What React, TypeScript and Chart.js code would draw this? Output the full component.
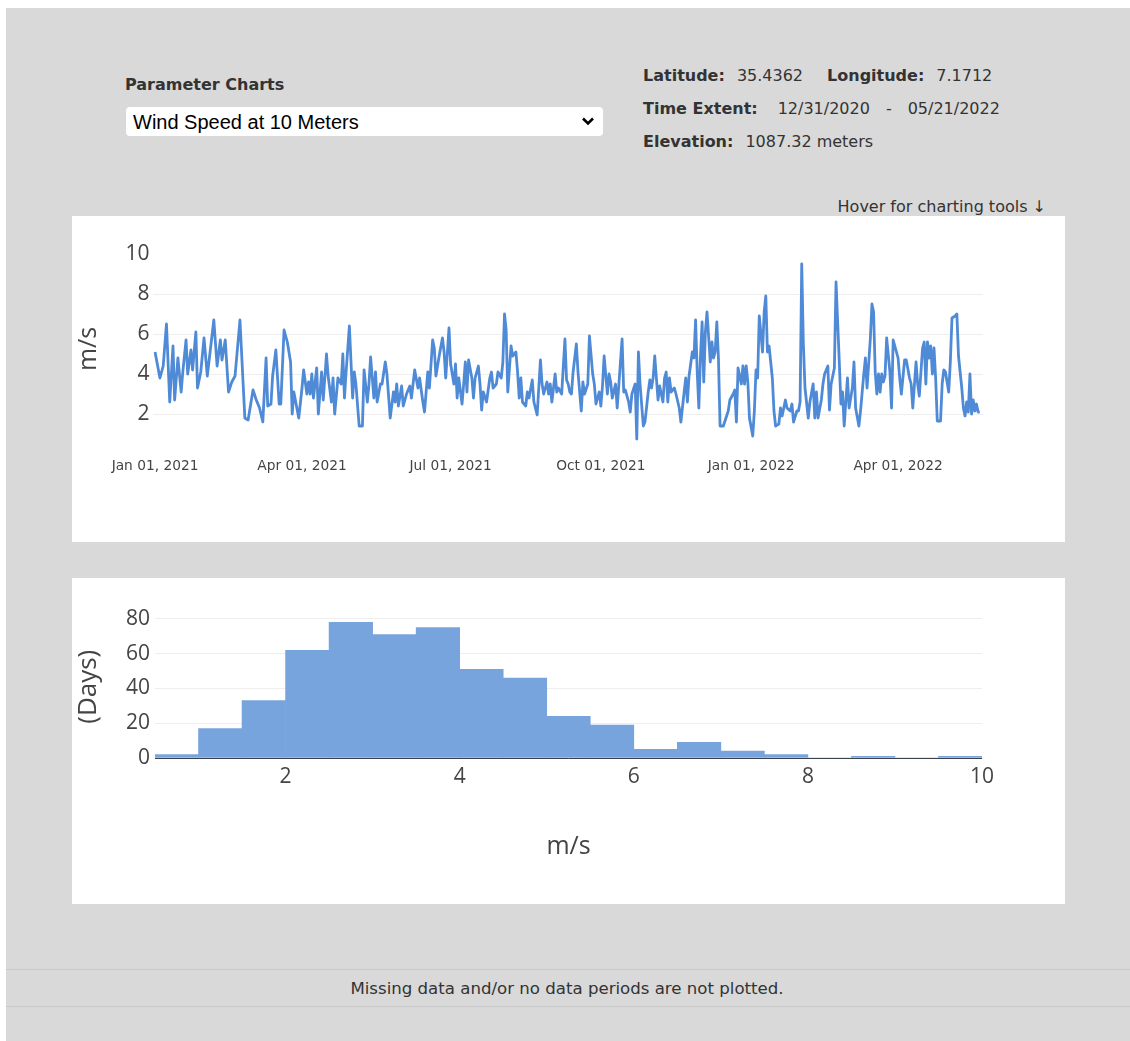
import React, { useEffect, useRef } from "react";
import { Chart, registerables } from "chart.js";

Chart.register(...registerables);

// ---- Line chart data: days since 2021-01-01 and daily wind speed (m/s) ----
const dayOffsets: number[] = [
  0, 3, 5, 7, 9, 11, 12, 14, 16, 17,
  19, 20, 22, 23, 25, 26, 28, 30, 32, 36,
  38, 40, 41, 43, 45, 47, 49, 52, 55, 57,
  60, 62, 64, 66, 68, 69, 71, 72, 74, 76,
  77, 79, 81, 83, 84, 85, 88, 90, 91, 93,
  94, 95, 96, 97, 99, 100, 102, 103, 105, 106,
  108, 109, 110, 112, 114, 115, 116, 117, 119, 121,
  122, 123, 125, 127, 128, 130, 131, 132, 134, 135,
  136, 138, 139, 141, 142, 144, 146, 147, 148, 149,
  151, 152, 154, 156, 157, 159, 161, 162, 164, 165,
  167, 168, 170, 171, 172, 174, 176, 177, 178, 180,
  181, 183, 184, 185, 186, 188, 189, 190, 191, 192,
  194, 195, 196, 198, 199, 200, 201, 203, 205, 206,
  207, 209, 210, 212, 213, 214, 215, 216, 218, 219,
  221, 222, 223, 224, 225, 227, 228, 229, 231, 232,
  234, 236, 237, 238, 240, 241, 242, 243, 245, 246,
  247, 249, 251, 252, 253, 254, 255, 256, 258, 259,
  261, 262, 263, 265, 266, 268, 269, 270, 272, 273,
  274, 275, 277, 278, 279, 280, 282, 283, 285, 286,
  287, 288, 290, 291, 292, 294, 295, 296, 297, 299,
  300, 302, 303, 304, 305, 306, 308, 309, 311, 312,
  313, 314, 315, 316, 318, 319, 321, 322, 324, 325,
  326, 327, 329, 330, 331, 332, 333, 334, 335, 336,
  337, 338, 340, 341, 342, 343, 344, 345, 346, 348,
  350, 351, 352, 354, 355, 356, 357, 359, 360, 361,
  362, 363, 364, 366, 367, 368, 369, 370, 372, 373,
  374, 375, 376, 378, 379, 380, 382, 383, 384, 386,
  387, 389, 390, 391, 393, 394, 395, 396, 397, 398,
  400, 401, 403, 404, 405, 406, 408, 409, 410, 412,
  413, 414, 416, 417, 419, 420, 421, 422, 424, 425,
  427, 428, 429, 431, 432, 434, 435, 436, 438, 439,
  440, 441, 442, 443, 444, 445, 446, 447, 448, 450,
  451, 452, 453, 455, 456, 457, 459, 460, 462, 463,
  464, 466, 467, 468, 470, 471, 472, 473, 474, 475,
  476, 477, 478, 479, 481, 482, 483, 484, 486, 487,
  488, 490, 491, 492, 494, 495, 496, 497, 498, 499,
  500, 501, 502, 503, 504, 505,
];

const windSpeed: number[] = [
  5.1, 3.8, 4.4, 6.5, 2.6, 5.4, 2.7, 4.8, 3.1, 4.1,
  5.7, 4.0, 5.2, 4.2, 6.1, 3.3, 4.1, 5.8, 3.9, 6.7,
  4.4, 5.7, 4.7, 5.7, 3.1, 3.6, 3.9, 6.7, 1.8, 1.7,
  3.2, 2.7, 2.3, 1.6, 4.8, 2.4, 2.5, 3.9, 5.2, 2.5,
  2.5, 6.2, 5.6, 4.6, 2.0, 3.1, 1.8, 3.3, 4.2, 3.0,
  3.6, 3.0, 4.0, 2.8, 4.3, 2.0, 4.1, 2.7, 5.0, 3.9,
  2.6, 3.8, 2.0, 3.8, 3.5, 5.0, 2.8, 4.1, 6.4, 2.8,
  4.1, 3.5, 1.4, 1.4, 4.2, 2.6, 3.5, 4.85, 2.8, 4.1,
  2.6, 3.5, 3.5, 4.6, 4.0, 1.8, 3.1, 2.6, 3.5, 2.4,
  3.4, 2.4, 3.0, 3.4, 2.8, 4.2, 3.3, 3.8, 2.6, 2.1,
  4.1, 3.3, 5.7, 5.3, 3.9, 4.9, 5.8, 5.1, 3.8, 6.3,
  4.5, 3.5, 4.5, 2.8, 3.8, 2.5, 3.5, 4.6, 3.1, 4.7,
  3.8, 2.8, 3.8, 4.4, 3.5, 2.2, 3.1, 2.6, 3.8, 4.1,
  3.3, 3.5, 4.1, 3.8, 4.6, 7.0, 6.2, 3.1, 5.4, 4.9,
  5.1, 4.1, 2.8, 3.8, 2.6, 2.4, 3.1, 2.8, 3.7, 2.6,
  1.95, 4.7, 3.5, 3.0, 3.6, 3.0, 3.5, 2.6, 4.0, 3.1,
  3.3, 3.0, 5.75, 3.7, 3.5, 3.1, 3.0, 4.1, 5.5, 4.1,
  2.15, 3.6, 3.0, 3.5, 5.9, 4.0, 3.5, 2.5, 3.1, 2.4,
  3.4, 4.9, 3.0, 4.0, 3.6, 2.8, 3.5, 2.3, 4.6, 5.75,
  3.1, 3.2, 2.6, 2.1, 3.0, 3.5, 0.75, 5.1, 3.5, 1.4,
  1.6, 3.1, 3.7, 3.3, 3.8, 4.9, 2.7, 3.4, 2.6, 3.8,
  4.1, 2.6, 3.8, 3.1, 3.3, 3.0, 2.3, 1.6, 3.1, 3.8,
  2.6, 3.9, 5.1, 4.8, 6.7, 4.1, 2.3, 4.9, 6.6, 3.6,
  6.1, 7.1, 4.6, 5.6, 4.8, 5.1, 6.6, 4.8, 1.4, 1.4,
  1.9, 2.15, 2.7, 3.0, 3.2, 1.6, 4.3, 3.5, 4.4, 3.5,
  4.4, 3.6, 1.8, 0.9, 2.15, 4.2, 3.8, 6.9, 5.1, 7.1,
  7.9, 5.1, 5.4, 3.8, 2.15, 1.4, 1.5, 2.3, 1.9, 2.7,
  2.3, 2.15, 2.5, 1.6, 2.15, 2.15, 2.6, 9.5, 5.5, 3.3,
  1.8, 2.6, 3.5, 1.8, 3.1, 1.8, 2.7, 3.5, 4.0, 4.4,
  2.2, 3.5, 4.3, 8.6, 4.6, 2.5, 3.1, 1.4, 3.8, 2.3,
  3.3, 4.6, 2.3, 1.4, 2.15, 4.0, 4.8, 3.3, 5.75, 7.5,
  7.1, 4.1, 3.0, 4.0, 3.1, 4.0, 3.6, 3.9, 5.8, 4.1,
  2.3, 5.7, 5.4, 4.8, 3.8, 3.0, 4.7, 4.7, 3.8, 3.5,
  2.3, 4.6, 3.5, 2.9, 5.3, 5.6, 3.5, 5.6, 4.8, 5.4,
  4.0, 5.3, 3.8, 1.65, 1.65, 3.5, 4.2, 4.1, 3.1, 4.6,
  6.8, 6.9, 7.0, 4.9, 3.3, 2.3, 1.9, 2.6, 2.1, 4.0,
  2.0, 2.7, 2.15, 2.5, 2.1, 2.1,
];

const dateTickDays: number[] = [0, 90, 181, 273, 365, 455];
const dateTickLabels: string[] = [
  "Jan 01, 2021", "Apr 01, 2021", "Jul 01, 2021",
  "Oct 01, 2021", "Jan 01, 2022", "Apr 01, 2022",
];
const lineYTicks: number[] = [2, 4, 6, 8, 10];

// ---- Histogram data ----
const BIN_WIDTH = 0.5;
const binStarts: number[] = [
  0.5, 1.0, 1.5, 2.0, 2.5, 3.0, 3.5, 4.0, 4.5, 5.0,
  5.5, 6.0, 6.5, 7.0, 7.5, 8.0, 8.5, 9.0, 9.5,
];
const binCounts: number[] = [
  2, 17, 33, 62, 78, 71, 75, 51, 46, 24,
  19, 5, 9, 4, 2, 0, 1, 0, 1,
];
const histXTicks: number[] = [2, 4, 6, 8, 10];
const histYTicks: number[] = [0, 20, 40, 60, 80];

const LINE_COLOR = "rgb(79,138,214)";
const BAR_COLOR = "rgb(120,164,222)";
const AXIS_TEXT = "#444";
const GRID = "#eeeeee";
const UI_FONT = '"DejaVu Sans", Verdana, sans-serif';
const PLOT_FONT = "Open Sans";

// draws plotly-like zero line over the bars (translucent, so it tints the bars' bottom edge)
const zeroLinePlugin = {
  id: "zeroLineOver",
  afterDatasetsDraw(chart: any) {
    const { ctx, chartArea, scales } = chart;
    const y = Math.round(scales.y.getPixelForValue(0)) + 0.5;
    ctx.save();
    ctx.strokeStyle = "rgba(40,60,100,0.35)";
    ctx.lineWidth = 1;
    ctx.beginPath();
    ctx.moveTo(chartArea.left, y);
    ctx.lineTo(chartArea.right, y);
    ctx.stroke();
    ctx.restore();
  },
};

function LineChart() {
  const ref = useRef<HTMLCanvasElement>(null);
  useEffect(() => {
    const chart = new Chart(ref.current as HTMLCanvasElement, {
      type: "line",
      data: {
        datasets: [
          {
            data: dayOffsets.map((d, i) => ({ x: d, y: windSpeed[i] })),
            borderColor: LINE_COLOR,
            borderWidth: 2.8,
            borderJoinStyle: "round",
            pointRadius: 0,
            tension: 0,
            fill: false,
          },
        ],
      },
      options: {
        animation: false,
        responsive: false,
        events: [],
        layout: { padding: { left: 0, right: 82, top: 38, bottom: 0 } },
        plugins: { legend: { display: false }, tooltip: { enabled: false } },
        scales: {
          x: {
            type: "linear",
            min: -1,
            max: 507,
            grid: { display: false },
            border: { display: false },
            afterBuildTicks: (s: any) => {
              s.ticks = dateTickDays.map((v) => ({ value: v }));
            },
            afterFit: (s: any) => {
              s.height = 98;
            },
            ticks: {
              autoSkip: false,
              maxRotation: 0,
              padding: 6.5,
              color: AXIS_TEXT,
              font: { family: "DejaVu Sans", size: 13.75 },
              callback: (_v: any, i: number) => dateTickLabels[i],
            },
          },
          y: {
            type: "linear",
            min: 0.5,
            max: 10,
            afterBuildTicks: (s: any) => {
              s.ticks = lineYTicks.map((v) => ({ value: v }));
            },
            afterFit: (s: any) => {
              s.width = 81.4;
            },
            grid: {
              drawTicks: false,
              color: (c: any) => (c.tick && c.tick.value === 10 ? "rgba(0,0,0,0)" : GRID),
            },
            border: { display: false },
            ticks: {
              padding: 4,
              color: AXIS_TEXT,
              font: { family: PLOT_FONT, size: 21 },
            },
            title: {
              display: true,
              text: "m/s",
              color: AXIS_TEXT,
              font: { family: PLOT_FONT, size: 25 },
              padding: { top: 2, bottom: 0 },
            },
          },
        },
      },
    } as any);
    return () => chart.destroy();
  }, []);
  return (
    <canvas
      ref={ref}
      width={993}
      height={326}
      style={{ position: "absolute", left: 72, top: 216, width: 993, height: 326, background: "#fff" }}
    />
  );
}

function HistChart() {
  const ref = useRef<HTMLCanvasElement>(null);
  useEffect(() => {
    const chart = new Chart(ref.current as HTMLCanvasElement, {
      type: "bar",
      data: {
        datasets: [
          {
            data: binStarts.map((s, i) => ({ x: s + BIN_WIDTH / 2, y: binCounts[i] })),
            backgroundColor: BAR_COLOR,
            borderWidth: 0,
            barPercentage: 1,
            categoryPercentage: 1,
          },
        ],
      },
      plugins: [zeroLinePlugin],
      options: {
        animation: false,
        responsive: false,
        events: [],
        layout: { padding: { left: 0, right: 83, top: 37.5, bottom: 0 } },
        plugins: { legend: { display: false }, tooltip: { enabled: false } },
        scales: {
          x: {
            type: "linear",
            min: 0.5,
            max: 10,
            offset: false,
            grid: { display: false, offset: false },
            border: { display: false },
            afterBuildTicks: (s: any) => {
              s.ticks = histXTicks.map((v) => ({ value: v }));
            },
            afterFit: (s: any) => {
              s.height = 146;
            },
            ticks: {
              autoSkip: false,
              maxRotation: 0,
              padding: -1.5,
              color: AXIS_TEXT,
              font: { family: PLOT_FONT, size: 21 },
            },
            title: {
              display: true,
              text: "m/s",
              color: AXIS_TEXT,
              font: { family: PLOT_FONT, size: 25 },
              padding: { top: 0, bottom: 42 },
            },
          },
          y: {
            type: "linear",
            min: 0,
            max: 82,
            afterBuildTicks: (s: any) => {
              s.ticks = histYTicks.map((v) => ({ value: v }));
            },
            afterFit: (s: any) => {
              s.width = 83;
            },
            grid: {
              drawTicks: false,
              color: (c: any) => (c.tick && c.tick.value === 0 ? "#444" : GRID),
            },
            border: { display: false },
            ticks: {
              padding: 5,
              color: AXIS_TEXT,
              font: { family: PLOT_FONT, size: 21 },
            },
            title: {
              display: true,
              text: "(Days)",
              color: AXIS_TEXT,
              font: { family: PLOT_FONT, size: 26 },
              padding: { top: 1, bottom: 0 },
            },
          },
        },
      },
    } as any);
    return () => chart.destroy();
  }, []);
  return (
    <canvas
      ref={ref}
      width={993}
      height={326}
      style={{ position: "absolute", left: 72, top: 578, width: 993, height: 326, background: "#fff" }}
    />
  );
}

function Txt(props: { x: number; y: number; children: React.ReactNode; style?: React.CSSProperties; right?: boolean; center?: boolean }) {
  const tx = props.right ? "-100%" : props.center ? "-50%" : "0";
  return (
    <div
      style={{
        position: "absolute",
        left: props.x,
        top: props.y,
        transform: `translate(${tx}, -50%)`,
        whiteSpace: "nowrap",
        lineHeight: 1,
        fontFamily: UI_FONT,
        fontSize: 16,
        color: "#333",
        ...props.style,
      }}
    >
      {props.children}
    </div>
  );
}

export default function App() {
  return (
    <div style={{ position: "absolute", left: 0, top: 0, width: 1130, height: 1041, overflow: "hidden", background: "#fff" }}>
      <div style={{ position: "absolute", left: 6, top: 8, width: 1124, height: 1033, background: "#d9d9d9" }} />

      <Txt x={125} y={85} style={{ fontWeight: "bold" }}>Parameter Charts</Txt>

      <div
        style={{
          position: "absolute",
          left: 126,
          top: 107,
          width: 477,
          height: 29,
          background: "#fff",
          borderRadius: 4,
        }}
      />
      <Txt x={133} y={122} style={{ fontFamily: '"Liberation Sans", Arial, sans-serif', fontSize: 20, color: "#000" }}>
        Wind Speed at 10 Meters
      </Txt>
      <svg style={{ position: "absolute", left: 581, top: 116 }} width={14} height={11}>
        <polyline points="2,2.5 7,7.5 12,2.5" fill="none" stroke="#000" strokeWidth={2.6} />
      </svg>

      <Txt x={643} y={76}>
        <b>Latitude:</b>
        <span style={{ marginLeft: 12 }}>35.4362</span>
        <b style={{ marginLeft: 24 }}>Longitude:</b>
        <span style={{ marginLeft: 12 }}>7.1712</span>
      </Txt>
      <Txt x={643} y={109}>
        <b>Time Extent:</b>
        <span style={{ marginLeft: 20 }}>12/31/2020</span>
        <span style={{ marginLeft: 16 }}>-</span>
        <span style={{ marginLeft: 16 }}>05/21/2022</span>
      </Txt>
      <Txt x={643} y={142}>
        <b>Elevation:</b>
        <span style={{ marginLeft: 12 }}>1087.32 meters</span>
      </Txt>

      <Txt x={1046} y={207} right>Hover for charting tools ↓</Txt>

      <LineChart />
      <HistChart />

      <div style={{ position: "absolute", left: 6, top: 969, width: 1124, height: 1, background: "#c9c9c9" }} />
      <Txt x={567} y={989} center style={{ fontSize: 16.6 }}>Missing data and/or no data periods are not plotted.</Txt>
      <div style={{ position: "absolute", left: 6, top: 1006, width: 1124, height: 1, background: "#c9c9c9" }} />
    </div>
  );
}
